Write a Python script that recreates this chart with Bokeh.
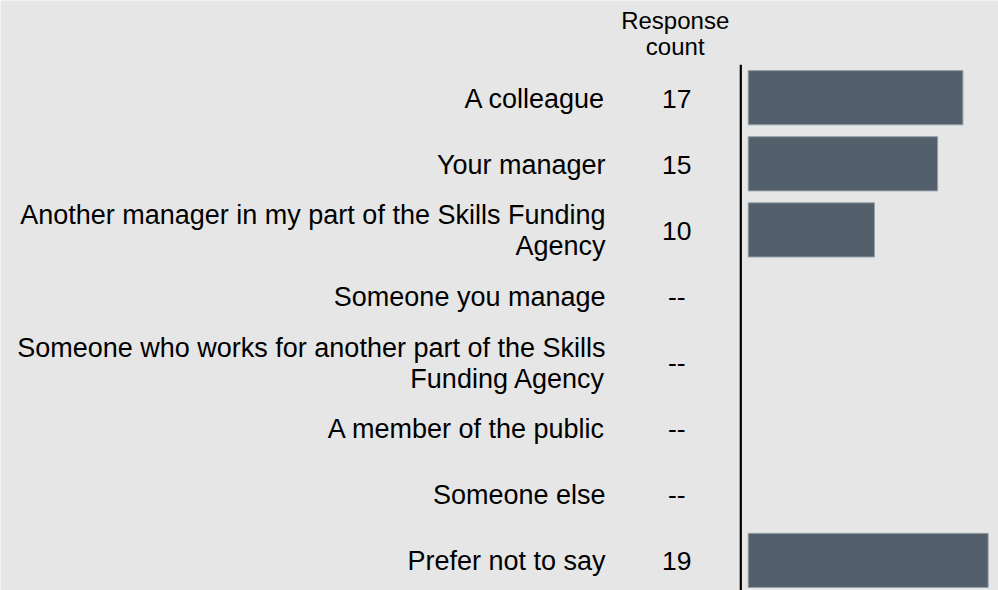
from bokeh.plotting import figure
from bokeh.models import ColumnDataSource, Range1d
from bokeh.core.properties import value
from bokeh.embed import file_html
from bokeh.resources import INLINE

# ---- data ----
categories = [
    "A colleague",
    "Your manager",
    "Another manager in my part of the Skills Funding\nAgency",
    "Someone you manage",
    "Someone who works for another part of the Skills\nFunding Agency",
    "A member of the public",
    "Someone else",
    "Prefer not to say",
]
counts = [17, 15, 10, None, None, None, None, 19]
header = "Response\ncount"
suppressed = "--"

# ---- layout ----
W, H = 998, 590
row_px = 66.1
top_px = 97.2
unit_px = 12.63
zero_px = 747.7

y_start = (H - top_px) / row_px
y_end = -top_px / row_px
x_start = -zero_px / unit_px
x_end = (W - zero_px) / unit_px

BG = "#e6e6e6"
FONT = value("Liberation Sans")

p = figure(width=W, height=H,
           x_range=Range1d(x_start, x_end), y_range=Range1d(y_start, y_end),
           x_axis_location=None, y_axis_location=None,
           output_backend="svg", toolbar_location=None, min_border=0)
p.grid.visible = False
p.background_fill_color = BG
p.border_fill_color = BG
p.outline_line_color = None

idx = list(range(len(categories)))
count_text = [str(c) if c is not None else suppressed for c in counts]

label_src = ColumnDataSource(dict(y=idx, text=categories, ct=count_text, x=[0] * len(idx)))

bar_y = [i for i, c in zip(idx, counts) if c is not None]
bar_v = [c for c in counts if c is not None]
bar_src = ColumnDataSource(dict(y=bar_y, right=bar_v))

# bars
p.hbar(y="y", left=0, right="right", height=0.82, source=bar_src,
       fill_color="#53606c", line_color="#96a0a9", line_width=1)

# axis line
axis_x = -7.4 / unit_px
p.segment(x0=[axis_x], y0=[-0.5], x1=[axis_x], y1=[y_start],
          line_color="black", line_width=2.2)

# category labels
p.text(x="x", y="y", text="text", source=label_src, x_offset=-142.7, y_offset=1,
       text_align="right", text_baseline="middle", text_font=FONT,
       text_font_size="27px", text_color="black", text_line_height=1.03)

# counts
p.text(x="x", y="y", text="ct", source=label_src, x_offset=-71.5, y_offset=1,
       text_align="center", text_baseline="middle", text_font=FONT,
       text_font_size="26.5px", text_color="black")

# header
p.text(x=[0], y=[-1], text=[header], x_offset=-73, y_offset=2,
       text_align="center", text_baseline="middle", text_font=FONT,
       text_font_size="24px", text_color="black", text_line_height=0.97)

open("out.html", "w").write(file_html(p, INLINE))
